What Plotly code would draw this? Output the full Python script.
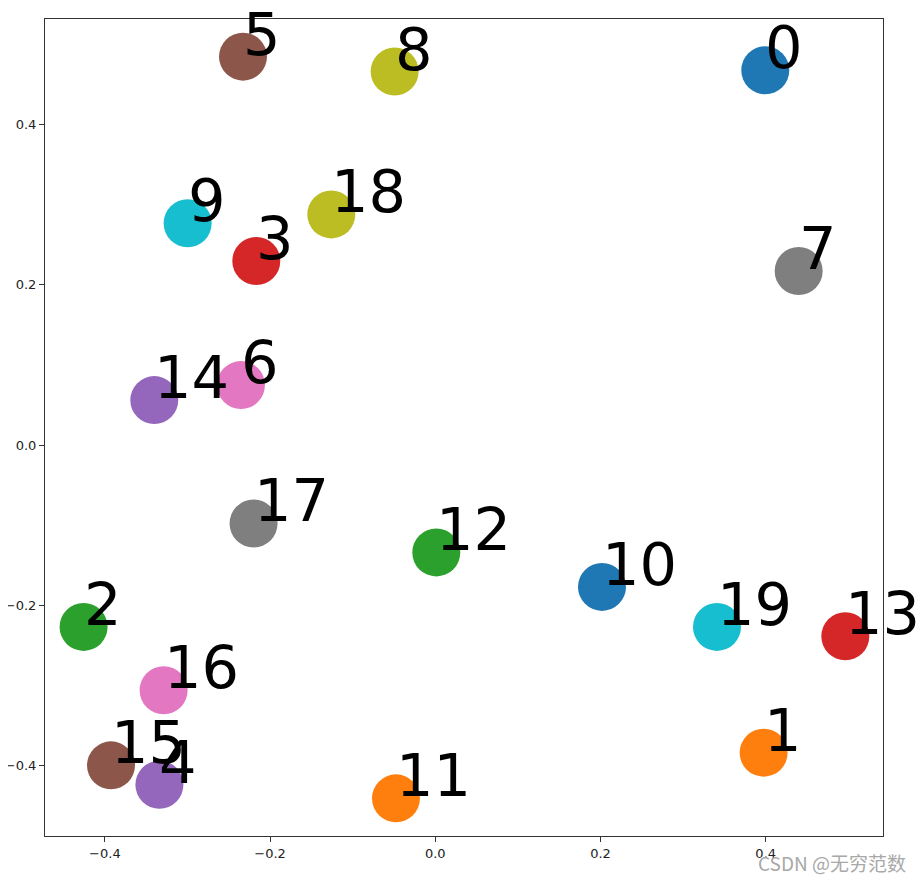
import plotly.graph_objects as go

labels = [str(i) for i in range(20)]
x_vals = [0.3995, 0.3975, -0.4258, -0.2167, -0.334, -0.2328, -0.2353, 0.4399, -0.0492, -0.2998,
          0.2018, -0.0476, 0.0012, 0.4964, -0.3402, -0.3926, -0.3289, -0.2200, -0.1259, 0.3410]
y_vals = [0.468, -0.384, -0.227, 0.2299, -0.424, 0.485, 0.075, 0.2174, 0.4664, 0.277,
          -0.177, -0.441, -0.134, -0.2386, 0.0562, -0.3998, -0.306, -0.0978, 0.288, -0.227]
palette = ['#1f77b4', '#ff7f0e', '#2ca02c', '#d62728', '#9467bd',
           '#8c564b', '#e377c2', '#7f7f7f', '#bcbd22', '#17becf']
tick_vals = [-0.4, -0.2, 0.0, 0.2, 0.4]

fig = go.Figure()
for i, (xv, yv) in enumerate(zip(x_vals, y_vals)):
    fig.add_trace(go.Scatter(x=[xv], y=[yv], mode='markers',
                             marker=dict(size=48, color=palette[i % 10], line=dict(width=0)),
                             showlegend=False, hoverinfo='skip'))

for lab, xv, yv in zip(labels, x_vals, y_vals):
    fig.add_annotation(x=xv, y=yv, text=lab, showarrow=False, xanchor='left', yanchor='bottom',
                       yshift=-14, xshift=-2,
                       font=dict(family='DejaVu Sans', size=59, color='black'))

fig.add_annotation(xref='paper', yref='paper', x=1.0298, y=-0.032, xanchor='right', yanchor='middle',
                   text='CSDN @无穷范数', showarrow=False,
                   font=dict(family='Noto Sans CJK SC', size=19, color='#a8a8a8'))

axis_common = dict(showgrid=False, zeroline=False, showline=True, mirror=True,
                   linecolor='#333333', linewidth=1, ticks='outside', ticklen=5,
                   tickcolor='#333333', tickvals=tick_vals, tickformat='.1f',
                   tickfont=dict(family='DejaVu Sans', size=13, color='#222222'))

fig.update_layout(
    width=916, height=874,
    margin=dict(l=37, r=41, t=11, b=46, autoexpand=False),
    plot_bgcolor='white', paper_bgcolor='white',
    xaxis=dict(range=[-0.4725, 0.542], **axis_common),
    yaxis=dict(range=[-0.488, 0.532], **axis_common),
)

fig.write_html("out.html")
